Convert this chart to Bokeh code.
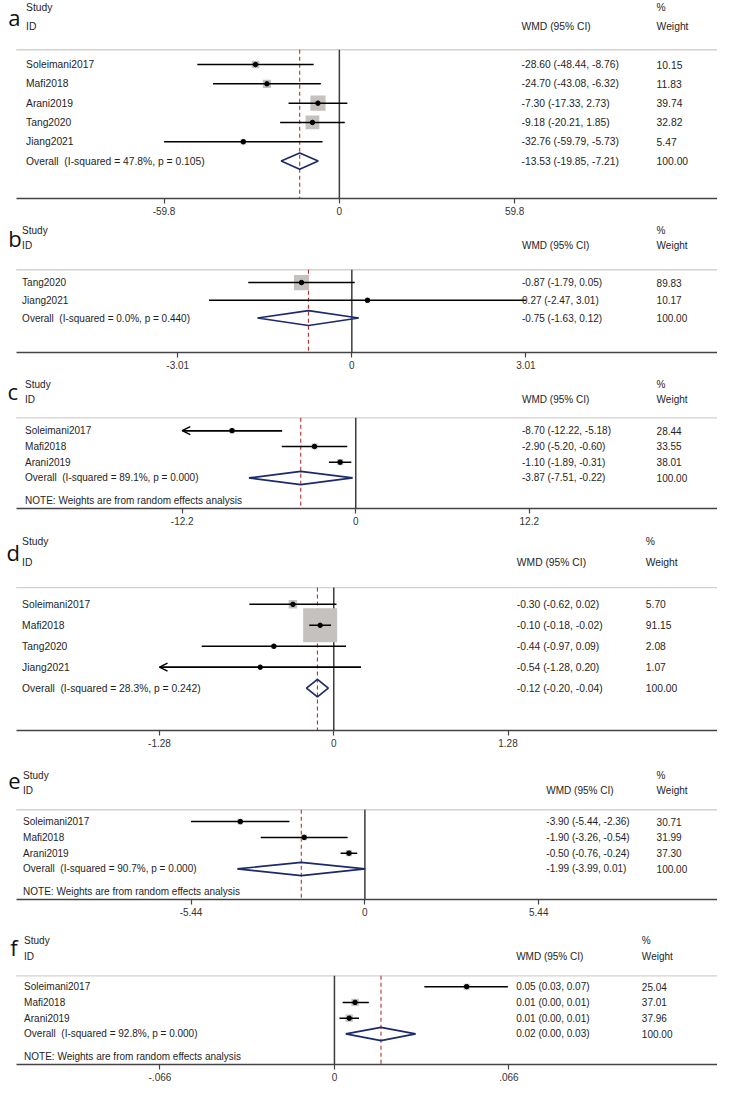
from bokeh.plotting import figure
from bokeh.layouts import column
from bokeh.models import Range1d, FixedTicker, Label, Arrow, OpenHead
from bokeh.core.properties import value
from bokeh.embed import file_html
from bokeh.resources import INLINE

# ---------------- data ----------------
a_studies = ["Soleimani2017", "Mafi2018", "Arani2019", "Tang2020", "Jiang2021"]
a_est = [-28.60, -24.70, -7.30, -9.18, -32.76]
a_lo = [-48.44, -43.08, -17.33, -20.21, -59.79]
a_hi = [-8.76, -6.32, 2.73, 1.85, -5.73]
a_wt = [10.15, 11.83, 39.74, 32.82, 5.47]
a_overall = [-13.53, -19.85, -7.21]
a_het = ["47.8", "0.105"]
a_tick = 59.8
a_tick_labels = ["-59.8", "0", "59.8"]
a_arrow = []

b_studies = ["Tang2020", "Jiang2021"]
b_est = [-0.87, 0.27]
b_lo = [-1.79, -2.47]
b_hi = [0.05, 3.01]
b_wt = [89.83, 10.17]
b_overall = [-0.75, -1.63, 0.12]
b_het = ["0.0", "0.440"]
b_tick = 3.01
b_tick_labels = ["-3.01", "0", "3.01"]
b_arrow = []

c_studies = ["Soleimani2017", "Mafi2018", "Arani2019"]
c_est = [-8.70, -2.90, -1.10]
c_lo = [-12.22, -5.20, -1.89]
c_hi = [-5.18, -0.60, -0.31]
c_wt = [28.44, 33.55, 38.01]
c_overall = [-3.87, -7.51, -0.22]
c_het = ["89.1", "0.000"]
c_tick = 12.2
c_tick_labels = ["-12.2", "0", "12.2"]
c_arrow = ["Soleimani2017"]

d_studies = ["Soleimani2017", "Mafi2018", "Tang2020", "Jiang2021"]
d_est = [-0.30, -0.10, -0.44, -0.54]
d_lo = [-0.62, -0.18, -0.97, -1.28]
d_hi = [0.02, -0.02, 0.09, 0.20]
d_wt = [5.70, 91.15, 2.08, 1.07]
d_overall = [-0.12, -0.20, -0.04]
d_het = ["28.3", "0.242"]
d_tick = 1.28
d_tick_labels = ["-1.28", "0", "1.28"]
d_arrow = ["Jiang2021"]

e_studies = ["Soleimani2017", "Mafi2018", "Arani2019"]
e_est = [-3.90, -1.90, -0.50]
e_lo = [-5.44, -3.26, -0.76]
e_hi = [-2.36, -0.54, -0.24]
e_wt = [30.71, 31.99, 37.30]
e_overall = [-1.99, -3.99, 0.01]
e_het = ["90.7", "0.000"]
e_tick = 5.44
e_tick_labels = ["-5.44", "0", "5.44"]
e_arrow = []

f_studies = ["Soleimani2017", "Mafi2018", "Arani2019"]
f_est = [0.050, 0.0078, 0.0056]
f_lo = [0.034, 0.0031, 0.0019]
f_hi = [0.0656, 0.013, 0.0093]
f_wt = [25.04, 37.01, 37.96]
f_overall = [0.0176, 0.0043, 0.0307]
f_het = ["92.8", "0.000"]
f_tick = 0.066
f_tick_labels = ["-.066", "0", ".066"]
f_arrow = []

NOTE_TEXT = "NOTE: Weights are from random effects analysis"

# ---------------- layout (reference pixels) ----------------
S = 1085 / 1101.0
FONT = "Liberation Sans"
layouts = {
    "a": dict(zero=345.0, ppu=178.5 / 59.8, r0=65, s=19.6, H=201, sep=50, study=7, id=26, note=None,
              border=21, xL=26, xW=530.5, xP=668, ly=17, lx=8, k=2.4, fs="10.3px"),
    "b": dict(zero=357.7, ppu=58.9, r0=64, s=18.0, H=135, sep=51, study=11, id=26, note=None,
              border=22, xL=22, xW=531, xP=668, ly=19, lx=8, k=1.6, fs="10px"),
    "c": dict(zero=361.7, ppu=14.48, r0=57, s=16.0, H=136, sep=44, study=10, id=25, note=128,
              border=20, xL=25, xW=531, xP=668, ly=17, lx=7, k=1.0, fs="10px"),
    "d": dict(zero=339.3, ppu=138.6, r0=77, s=21.25, H=205, sep=60, study=13, id=34, note=None,
              border=28, xL=22, xW=525.7, xP=657, ly=24, lx=6, k=3.56, fs="10.3px"),
    "e": dict(zero=371.0, ppu=32.54, r0=64, s=16.0, H=143, sep=52, study=17, id=32, note=135,
              border=28, xL=23, xW=555.7, xP=668, ly=23, lx=8, k=1.0, fs="10px"),
    "f": dict(zero=340.0, ppu=2692.0, r0=60, s=16.0, H=139, sep=49, study=13, id=29, note=131,
              border=20, xL=24, xW=525, xP=653, ly=20, lx=10, k=1.2, fs="10px"),
}
AX_LEFT, AX_RIGHT = 16, 730  # reference px span of axis/separator

panels = [
    ("a", a_studies, a_est, a_lo, a_hi, a_wt, a_overall, a_het, a_tick, a_tick_labels, a_arrow),
    ("b", b_studies, b_est, b_lo, b_hi, b_wt, b_overall, b_het, b_tick, b_tick_labels, b_arrow),
    ("c", c_studies, c_est, c_lo, c_hi, c_wt, c_overall, c_het, c_tick, c_tick_labels, c_arrow),
    ("d", d_studies, d_est, d_lo, d_hi, d_wt, d_overall, d_het, d_tick, d_tick_labels, d_arrow),
    ("e", e_studies, e_est, e_lo, e_hi, e_wt, e_overall, e_het, e_tick, e_tick_labels, e_arrow),
    ("f", f_studies, f_est, f_lo, f_hi, f_wt, f_overall, f_het, f_tick, f_tick_labels, f_arrow),
]

TXT = "#1e1e1e"
SQ = "#c4c1bf"
NAVY = "#1b2a6b"
RED = "#b8322c"
ZERO = "#3c3c3c"
SEP = "#d4d1ce"


def fmt(v):
    return f"{v:.2f}"


def make_panel(letter, studies, est, lo, hi, wt, overall, het, tick, tick_labels, arrows):
    L = layouts[letter]
    vx = lambda rx: (rx - L["zero"]) / L["ppu"]
    ry = lambda py: (py - L["r0"]) / L["s"]
    H = L["H"]
    fh = round(H * S)
    p = figure(width=717, height=fh + L["border"],
               x_range=Range1d(vx(0), vx(AX_RIGHT)),
               y_range=Range1d(ry(H), ry(0)),
               output_backend="svg", toolbar_location=None,
               y_axis_location=None,
               min_border_left=0, min_border_right=0, min_border_top=0,
               min_border_bottom=L["border"])
    p.outline_line_color = None
    p.xgrid.visible = False
    p.ygrid.visible = False
    p.background_fill_color = "white"
    p.border_fill_color = "white"

    ax = p.xaxis[0]
    ticks = [-tick, 0, tick]
    ax.ticker = FixedTicker(ticks=ticks)
    ax.bounds = (vx(AX_LEFT), vx(AX_RIGHT))
    ax.major_label_overrides = {t: lab for t, lab in zip(ticks, tick_labels)}
    ax.axis_line_color = "#444444"
    ax.axis_line_width = 1.4
    ax.major_tick_line_color = "#444444"
    ax.major_tick_line_width = 1.2
    ax.major_tick_in = 0
    ax.major_tick_out = 5
    ax.minor_tick_line_color = None
    ax.major_label_standoff = 3
    ax.major_label_text_font = FONT
    ax.major_label_text_font_size = "10px"
    ax.major_label_text_color = "#333333"

    n = len(studies)
    idx = list(range(n))
    y_sep = ry(L["sep"])
    y_bot = ry(H)

    # header separator
    p.segment(x0=[vx(AX_LEFT)], y0=[y_sep], x1=[vx(AX_RIGHT)], y1=[y_sep], line_color=SEP, line_width=1.3)
    # zero line
    p.segment(x0=[0], y0=[y_sep], x1=[0], y1=[y_bot], line_color=ZERO, line_width=1.5)
    # overall dashed line
    p.segment(x0=[overall[0]], y0=[y_sep], x1=[overall[0]], y1=[y_bot],
              line_color=RED, line_width=1.1, line_dash="4 3")
    # weight squares
    sizes = [L["k"] * (w ** 0.5) for w in wt]
    p.scatter(x=est, y=idx, size=sizes, marker="square", fill_color=SQ, line_color=None)
    # CI lines
    lo_draw = [max(l, -tick) for l in lo]
    p.segment(x0=lo_draw, y0=idx, x1=hi, y1=idx, line_color="black", line_width=1.5)
    for i, st in enumerate(studies):
        if st in arrows:
            p.add_layout(Arrow(x_start=hi[i], y_start=i, x_end=-tick, y_end=i,
                               line_color="black", line_width=1.5,
                               end=OpenHead(size=8, line_width=1.5, line_color="black")))
    # point estimates
    p.scatter(x=est, y=idx, size=4.5, marker="circle", fill_color="black", line_color="black")
    # overall diamond
    h = 0.42
    p.patch(x=[overall[1], overall[0], overall[2], overall[0]],
            y=[n, n - h, n, n + h], fill_color=None, line_color=NAVY, line_width=1.7)

    tk = dict(text_font=value(FONT), text_font_size=L["fs"], text_baseline="middle", text_color=TXT)
    # header
    p.text(x=[vx(L["xL"])] * 2, y=[ry(L["study"]), ry(L["id"])], text=["Study", "ID"], **tk)
    p.text(x=[vx(L["xW"])], y=[ry(L["id"])], text=["WMD (95% CI)"], **tk)
    p.text(x=[vx(L["xP"])] * 2, y=[ry(L["study"]), ry(L["id"])], text=["%", "Weight"], **tk)
    # rows
    names = studies + [f"Overall \u00a0(I-squared = {het[0]}%, p = {het[1]})"]
    cis = [f"{fmt(e)} ({fmt(l)}, {fmt(u)})" for e, l, u in
           zip(est + [overall[0]], lo + [overall[1]], hi + [overall[2]])]
    wts = [fmt(w) for w in wt] + ["100.00"]
    rows = list(range(n + 1))
    p.text(x=[vx(L["xL"])] * (n + 1), y=rows, text=names, **tk)
    p.text(x=[vx(L["xW"])] * (n + 1), y=rows, text=cis, **tk)
    p.text(x=[vx(L["xP"])] * (n + 1), y=rows, text=wts, **tk)
    if L["note"] is not None:
        p.text(x=[vx(L["xL"])], y=[ry(L["note"])], text=[NOTE_TEXT], **tk)

    # panel letter
    p.add_layout(Label(x=vx(L["lx"]), y=ry(L["ly"]), text=letter, text_font="Open Sans",
                       text_font_size="22px", text_baseline="middle", text_align="left",
                       text_color="#111111"))
    return p


figs = [make_panel(*pn) for pn in panels]
layout = column(*figs, spacing=0)

open("out.html", "w").write(file_html(layout, INLINE))
